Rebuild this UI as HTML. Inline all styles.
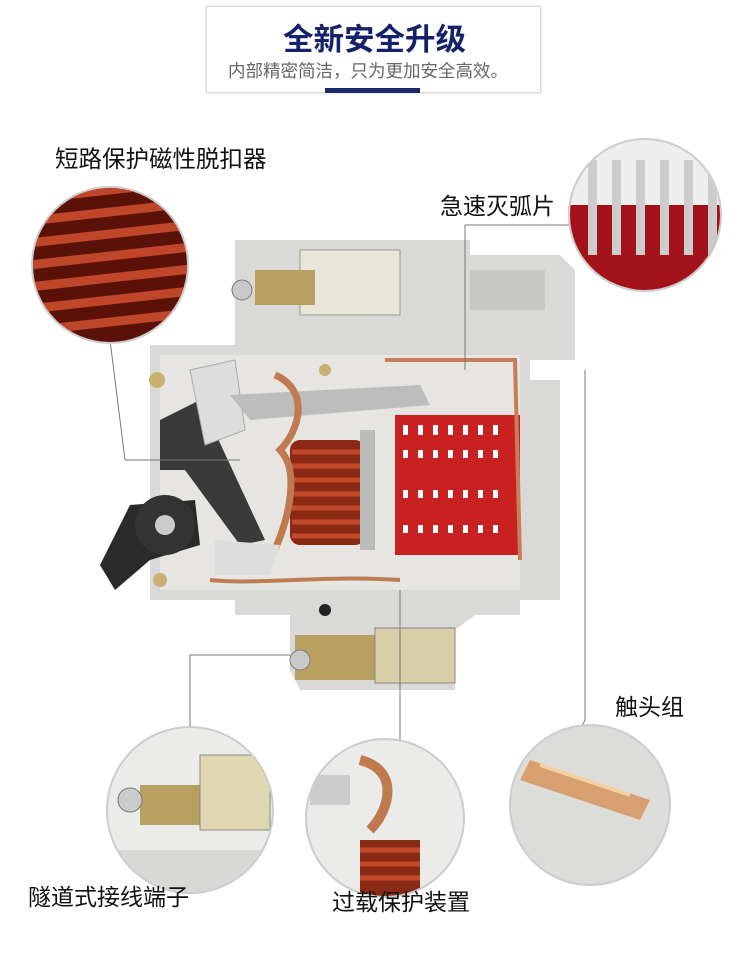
<!DOCTYPE html>
<html><head><meta charset="utf-8"><style>
body{margin:0;width:750px;height:960px;background:#fff;overflow:hidden;position:relative;font-family:"Liberation Sans","Noto Sans CJK SC",sans-serif}
.t{position:absolute;white-space:nowrap;color:#111;line-height:1}
</style></head><body>
<div style="position:absolute;left:206px;top:6px;width:333px;height:85px;border:1px solid #ddd;box-shadow:0 0 2px #ccc"></div>
<div class="t" style="left:283px;top:25px;font-size:30.5px;font-weight:bold;color:#15216a">全新安全升级</div>
<div class="t" style="left:228px;top:63px;font-size:17.5px;color:#666">内部精密简洁，只为更加安全高效。</div>
<div style="position:absolute;left:325px;top:88px;width:95px;height:5px;background:#1a2a6a"></div>

<svg width="750" height="960" style="position:absolute;left:0;top:0">
<path d="M235 240 L470 240 L470 255 L560 255 L575 270 L575 360 L530 360 L530 380 L560 380 L560 600 L520 600 L520 615 L475 615 L455 630 L455 690 L300 690 L290 670 L290 615 L235 615 L235 600 L150 600 L150 345 L235 345 Z" fill="#d9d9d7"/>
<path d="M160 355 L520 355 L520 590 L160 590 Z" fill="#e6e5e2"/>
<path d="M300 250 L400 250 L400 315 L300 315 Z" fill="#e8e6d8" stroke="#999"/>
<rect x="255" y="270" width="60" height="35" fill="#b8a060"/>
<circle cx="242" cy="290" r="10" fill="#c9c9c9" stroke="#777"/>
<rect x="470" y="270" width="75" height="40" fill="#c8c8c6"/>
<rect x="395" y="415" width="125" height="140" fill="#c8211f"/>
<g fill="#fff">
<rect x="403" y="425" width="5" height="10"/><rect x="418" y="425" width="5" height="10"/><rect x="433" y="425" width="5" height="10"/><rect x="448" y="425" width="5" height="10"/><rect x="463" y="425" width="5" height="10"/><rect x="478" y="425" width="5" height="10"/><rect x="493" y="425" width="5" height="10"/>
<rect x="403" y="450" width="5" height="8"/><rect x="418" y="450" width="5" height="8"/><rect x="433" y="450" width="5" height="8"/><rect x="448" y="450" width="5" height="8"/><rect x="463" y="450" width="5" height="8"/><rect x="478" y="450" width="5" height="8"/><rect x="493" y="450" width="5" height="8"/>
<rect x="403" y="490" width="5" height="8"/><rect x="418" y="490" width="5" height="8"/><rect x="433" y="490" width="5" height="8"/><rect x="448" y="490" width="5" height="8"/><rect x="463" y="490" width="5" height="8"/><rect x="478" y="490" width="5" height="8"/><rect x="493" y="490" width="5" height="8"/>
<rect x="403" y="525" width="5" height="8"/><rect x="418" y="525" width="5" height="8"/><rect x="433" y="525" width="5" height="8"/><rect x="448" y="525" width="5" height="8"/><rect x="463" y="525" width="5" height="8"/><rect x="478" y="525" width="5" height="8"/><rect x="493" y="525" width="5" height="8"/>
</g>
<path d="M385 360 L515 360 L520 560" stroke="#c87e5a" stroke-width="4" fill="none"/>
<rect x="290" y="440" width="75" height="105" rx="10" fill="#8a2a15"/>
<g stroke="#c24a2a" stroke-width="5">
<line x1="292" y1="452" x2="363" y2="452"/><line x1="292" y1="466" x2="363" y2="466"/><line x1="292" y1="480" x2="363" y2="480"/><line x1="292" y1="494" x2="363" y2="494"/><line x1="292" y1="508" x2="363" y2="508"/><line x1="292" y1="522" x2="363" y2="522"/><line x1="292" y1="536" x2="363" y2="536"/>
</g>
<rect x="360" y="430" width="15" height="120" fill="#bbb"/>
<path d="M160 420 L200 400 L265 540 L240 545 L185 470 L160 470 Z" fill="#3a3a3a"/>
<path d="M130 505 L195 500 L200 545 L150 560 L115 590 L100 565 Z" fill="#2a2a2a"/>
<circle cx="165" cy="525" r="30" fill="#333"/>
<circle cx="165" cy="525" r="10" fill="#ccc"/>
<path d="M190 370 L235 360 L245 430 L205 445 Z" fill="#ddd" stroke="#aaa"/>
<path d="M230 395 L420 385 L430 405 L250 420 Z" fill="#bdbdbd"/>
<path d="M275 375 C310 390 300 430 280 450 C300 470 290 520 270 560" stroke="#c07a50" stroke-width="7" fill="none"/>
<path d="M215 540 L280 545 L270 575 L215 575 Z" fill="#ddd"/>
<path d="M210 580 C260 585 320 575 400 580" stroke="#c07a50" stroke-width="4" fill="none"/>
<circle cx="157" cy="380" r="8" fill="#c9b070"/>
<circle cx="160" cy="580" r="7" fill="#c9b070"/>
<circle cx="325" cy="370" r="6" fill="#c9b070"/>
<rect x="295" y="635" width="90" height="45" fill="#b8a060"/>
<rect x="375" y="628" width="80" height="55" fill="#d9cfa8" stroke="#888"/>
<circle cx="300" cy="660" r="10" fill="#c9c9c9" stroke="#777"/>
<circle cx="325" cy="610" r="6" fill="#222"/>
<g stroke="#777" stroke-width="1" fill="none">
<polyline points="110,340 125,460 240,460"/>
<polyline points="575,225 465,225 465,370"/>
<polyline points="585,370 585,720 575,740"/>
<polyline points="290,655 190,655 190,735"/>
<polyline points="400,590 400,740"/>
</g>
<defs>
<clipPath id="c1"><circle cx="110" cy="265" r="77"/></clipPath>
<clipPath id="c2"><circle cx="645" cy="215" r="75"/></clipPath>
<clipPath id="c3"><circle cx="190" cy="810" r="82"/></clipPath>
<clipPath id="c4"><circle cx="385" cy="818" r="78"/></clipPath>
</defs>
<circle cx="110" cy="265" r="78" fill="#eee" stroke="#ccc" stroke-width="2"/>
<g clip-path="url(#c1)"><rect x="30" y="185" width="160" height="160" fill="#5a1208"/>
<g stroke="#c0462a" stroke-width="9"><line x1="20" y1="200" x2="200" y2="180"/><line x1="20" y1="222" x2="200" y2="202"/><line x1="20" y1="244" x2="200" y2="224"/><line x1="20" y1="266" x2="200" y2="246"/><line x1="20" y1="288" x2="200" y2="268"/><line x1="20" y1="310" x2="200" y2="290"/><line x1="20" y1="332" x2="200" y2="312"/></g></g>
<circle cx="645" cy="215" r="76" fill="#eee" stroke="#ccc" stroke-width="2"/>
<g clip-path="url(#c2)"><rect x="570" y="205" width="150" height="90" fill="#a3121a"/>
<g fill="#ccc"><rect x="588" y="160" width="9" height="95"/><rect x="612" y="160" width="9" height="95"/><rect x="636" y="160" width="9" height="95"/><rect x="660" y="160" width="9" height="95"/><rect x="684" y="160" width="9" height="95"/><rect x="708" y="160" width="9" height="95"/></g></g>
<circle cx="190" cy="810" r="83" fill="#ebebe9" stroke="#ccc" stroke-width="2"/>
<g clip-path="url(#c3)"><rect x="140" y="785" width="70" height="40" fill="#b8a060"/><rect x="200" y="755" width="70" height="75" fill="#e0d8b0" stroke="#888"/><circle cx="130" cy="800" r="12" fill="#ccc" stroke="#777"/><rect x="100" y="850" width="180" height="60" fill="#d8d8d6"/></g>
<circle cx="385" cy="818" r="79" fill="#ebebe9" stroke="#ccc" stroke-width="2"/>
<g clip-path="url(#c4)"><path d="M360 760 C400 770 390 810 370 830" stroke="#c07a50" stroke-width="10" fill="none"/><rect x="360" y="840" width="60" height="60" fill="#8a2a15"/><g stroke="#c24a2a" stroke-width="5"><line x1="360" y1="850" x2="420" y2="850"/><line x1="360" y1="864" x2="420" y2="864"/><line x1="360" y1="878" x2="420" y2="878"/></g><rect x="310" y="775" width="40" height="30" fill="#ccc"/></g>
<circle cx="590" cy="805" r="80" fill="#dcdcda" stroke="#ccc" stroke-width="2"/>
<path d="M530 760 L650 800 L640 820 L520 780 Z" fill="#d8a070"/>
<path d="M540 765 L630 795" stroke="#f5d0a0" stroke-width="4"/>
</svg>

<div class="t" style="left:55px;top:148px;font-size:23.5px">短路保护磁性脱扣器</div>
<div class="t" style="left:440px;top:195px;font-size:23px">急速灭弧片</div>
<div class="t" style="left:615px;top:696px;font-size:23px">触头组</div>
<div class="t" style="left:28px;top:886px;font-size:23px">隧道式接线端子</div>
<div class="t" style="left:332px;top:891px;font-size:23px">过载保护装置</div>
</body></html>
